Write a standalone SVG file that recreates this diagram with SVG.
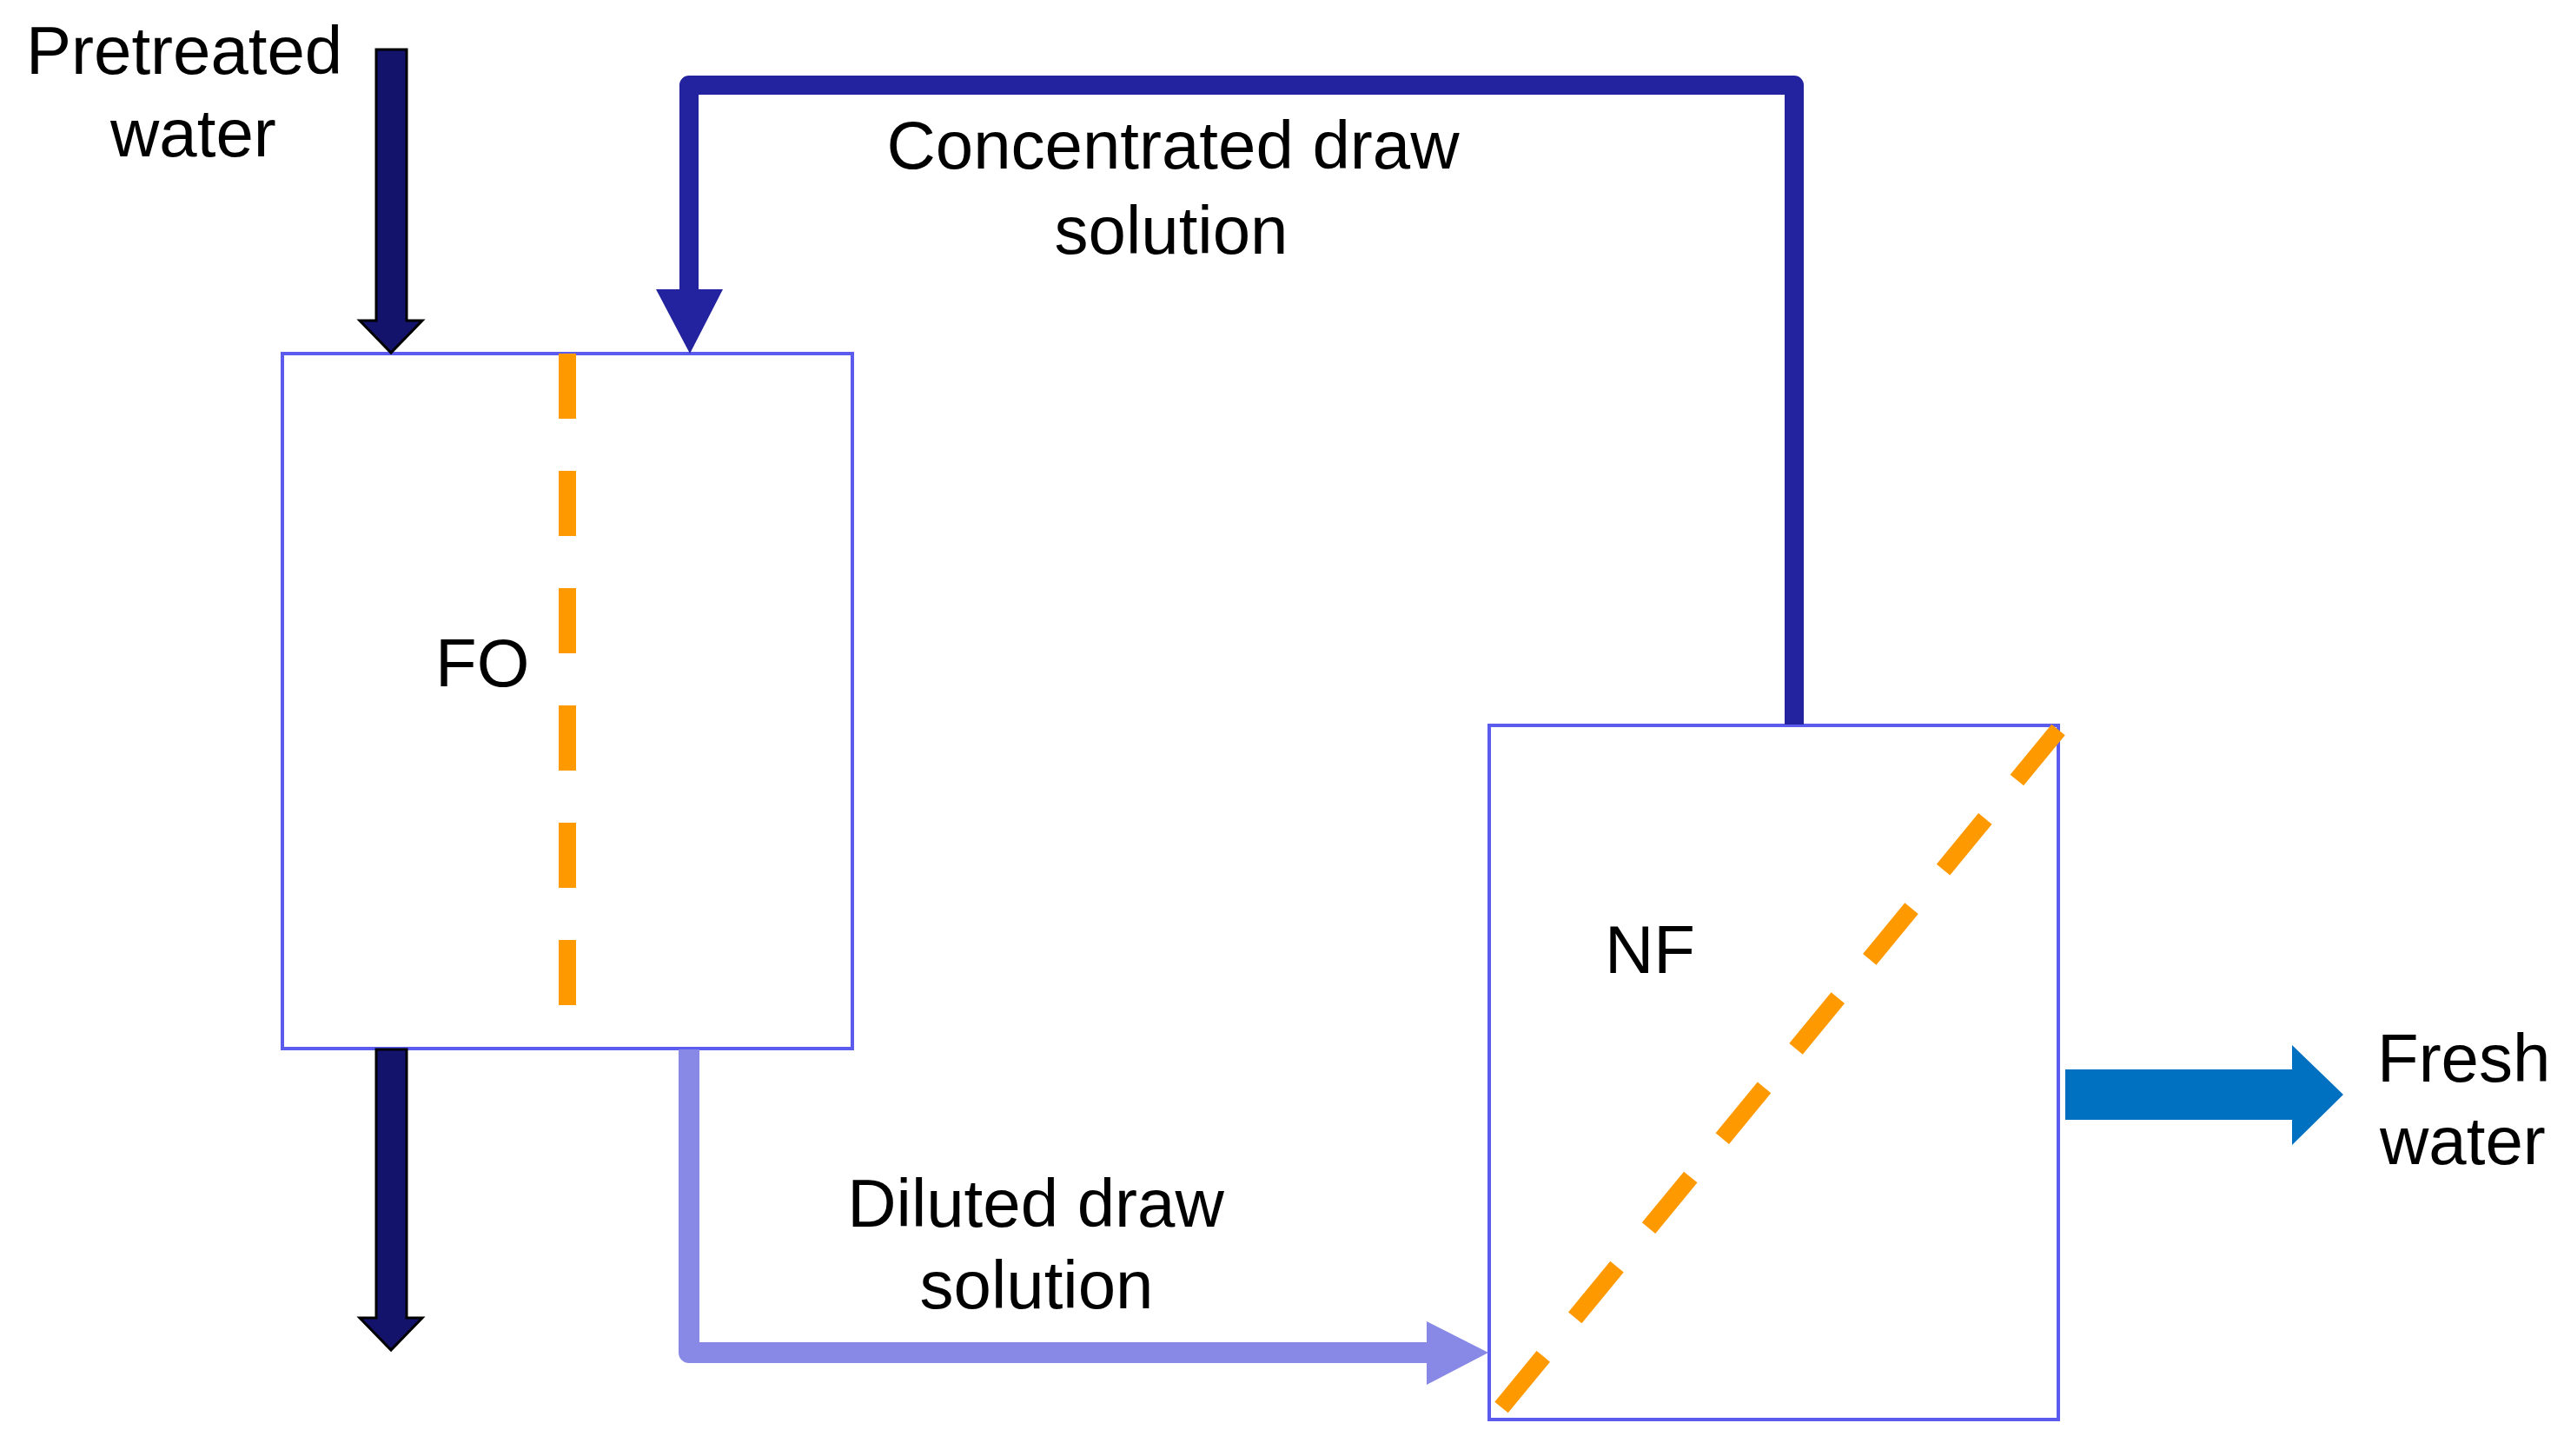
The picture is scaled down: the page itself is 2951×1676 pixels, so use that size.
<svg xmlns="http://www.w3.org/2000/svg" width="2951" height="1676" viewBox="0 0 2951 1676">
<style>
  .lbl { font-family: "Liberation Sans", Arial, sans-serif; font-size: 78px; fill: #000; }
  .box { fill: #ffffff; stroke: #5b5bee; stroke-width: 4; }
  .membrane { fill: none; stroke: #ff9900; stroke-width: 20; }
  .navy { fill: #13136b; stroke: #000; stroke-width: 3; stroke-linejoin: miter; }
</style>
<rect width="2951" height="1676" fill="#ffffff"/>

<g id="fo-node">
  <rect class="box" x="325" y="407" width="656" height="800"/>
  <line class="membrane" x1="653" y1="407" x2="653" y2="1157" stroke-dasharray="75 60"/>
  <text class="lbl" x="501" y="790">FO</text>
</g>

<g id="nf-node">
  <rect class="box" x="1714" y="835" width="655" height="799"/>
  <line class="membrane" x1="1728" y1="1620" x2="2369" y2="840" stroke-dasharray="76 57.5"/>
  <text class="lbl" x="1847" y="1120">NF</text>
</g>

<g id="connectors">
  <!-- Pretreated water in -->
  <polygon class="navy" points="433,57 468,57 468,369 486,369 450,406 414,369 433,369"/>
  <!-- Outlet from FO -->
  <polygon class="navy" points="433,1208 468,1208 468,1517 486,1517 450,1554 414,1517 433,1517"/>
  <!-- Concentrated draw solution -->
  <path d="M2065,834 L2065,98 L793,98 L793,340" fill="none" stroke="#2323a0" stroke-width="22" stroke-linejoin="round"/>
  <polygon points="755,333 832,333 794,407" fill="#2323a0"/>
  <!-- Diluted draw solution -->
  <path d="M793,1208 L793,1557 L1646,1557" fill="none" stroke="#8888e6" stroke-width="24" stroke-linejoin="round"/>
  <polygon points="1642,1521 1713,1557 1642,1594" fill="#8888e6"/>
  <!-- Fresh water out -->
  <polygon points="2377,1231 2638,1231 2638,1203 2697,1260 2638,1318 2638,1289 2377,1289" fill="#0070c0"/>
</g>

<g id="labels">
  <text class="lbl" x="30" y="85">Pretreated</text>
  <text class="lbl" x="127" y="180">water</text>
  <text class="lbl" x="1350" y="194" text-anchor="middle">Concentrated draw</text>
  <text class="lbl" x="1348" y="292" text-anchor="middle">solution</text>
  <text class="lbl" x="1192" y="1412" text-anchor="middle">Diluted draw</text>
  <text class="lbl" x="1193" y="1506" text-anchor="middle">solution</text>
  <text class="lbl" x="2736" y="1245">Fresh</text>
  <text class="lbl" x="2739" y="1340">water</text>
</g>
</svg>
